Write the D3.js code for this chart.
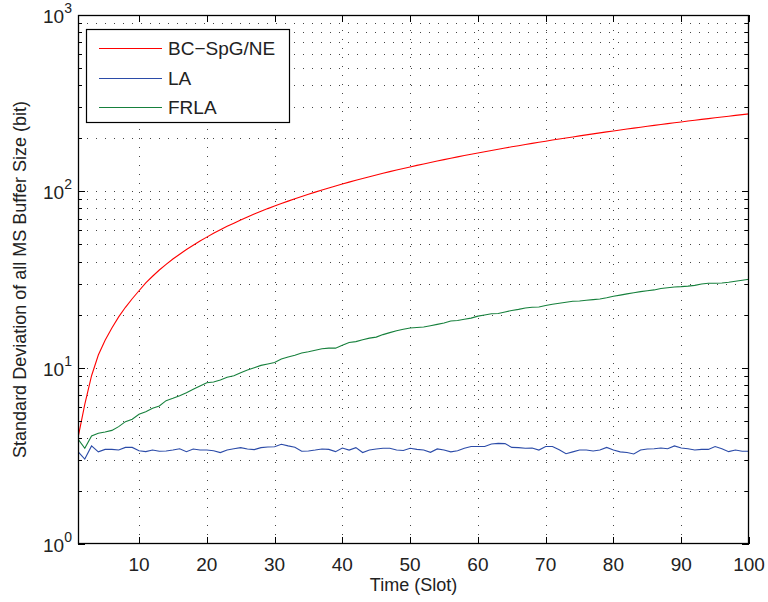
<!DOCTYPE html>
<html>
<head>
<meta charset="utf-8">
<script src="https://cdn.jsdelivr.net/npm/d3@7"></script>
<style>
  body { margin: 0; background: #fff; }
  svg { display: block; font-family: "Liberation Sans", Arial, sans-serif; }
</style>
</head>
<body>
<svg id="chart" width="768" height="602"></svg>
<script>
// values, one per slot (1..100)
const seriesNames = ["BC\u2212SpG/NE", "LA", "FRLA"];
const seriesColors = ["#ff0000", "#2b4ba8", "#16803c"];

const bcSpg = [
  4.0, 6.2, 9.0, 11.8, 14.3, 16.8, 19.4, 22.0, 24.6, 27.3,
  30.3, 33.0, 35.8, 38.5, 41.3, 44.0, 46.8, 49.5, 52.3, 55.0,
  57.8, 60.5, 63.3, 66.0, 68.8, 71.5, 74.3, 77.0, 79.8, 82.5,
  85.3, 88.0, 90.8, 93.5, 96.3, 99.0, 101.8, 104.5, 107.3, 110.0,
  112.8, 115.5, 118.3, 121.0, 123.8, 126.5, 129.3, 132.0, 134.8, 137.5,
  140.3, 143.0, 145.8, 148.5, 151.3, 154.0, 156.8, 159.5, 162.3, 165.0,
  167.8, 170.5, 173.3, 176.0, 178.8, 181.5, 184.3, 187.0, 189.8, 192.5,
  195.3, 198.0, 200.8, 203.5, 206.3, 209.0, 211.8, 214.5, 217.3, 220.0,
  222.8, 225.5, 228.3, 231.0, 233.8, 236.5, 239.3, 242.0, 244.8, 247.5,
  250.3, 253.0, 255.8, 258.5, 261.3, 264.0, 266.8, 269.5, 272.3, 275.0
];

const la = [
  3.34, 3.03, 3.60, 3.33, 3.44, 3.44, 3.41, 3.53, 3.53, 3.38,
  3.34, 3.41, 3.36, 3.37, 3.41, 3.47, 3.34, 3.46, 3.41, 3.41,
  3.38, 3.30, 3.41, 3.47, 3.52, 3.46, 3.43, 3.52, 3.55, 3.56,
  3.68, 3.60, 3.54, 3.36, 3.37, 3.41, 3.46, 3.44, 3.34, 3.50,
  3.41, 3.52, 3.30, 3.41, 3.46, 3.49, 3.49, 3.41, 3.39, 3.49,
  3.44, 3.41, 3.31, 3.46, 3.41, 3.33, 3.38, 3.49, 3.57, 3.57,
  3.57, 3.69, 3.72, 3.71, 3.53, 3.52, 3.49, 3.50, 3.41, 3.57,
  3.57, 3.42, 3.25, 3.33, 3.41, 3.41, 3.37, 3.41, 3.53, 3.41,
  3.33, 3.30, 3.24, 3.41, 3.46, 3.47, 3.50, 3.47, 3.60, 3.50,
  3.47, 3.41, 3.44, 3.44, 3.57, 3.47, 3.34, 3.41, 3.36, 3.36
];

const frla = [
  3.93, 3.49, 4.10, 4.25, 4.32, 4.41, 4.63, 4.94, 5.10, 5.44,
  5.63, 5.89, 6.06, 6.50, 6.70, 6.93, 7.21, 7.54, 7.87, 8.22,
  8.30, 8.51, 8.82, 9.00, 9.37, 9.70, 10.0, 10.3, 10.5, 10.7,
  11.2, 11.5, 11.75, 12.1, 12.3, 12.55, 12.8, 12.9, 12.9, 13.4,
  13.9, 14.05, 14.4, 14.7, 14.9, 15.4, 15.8, 16.2, 16.5, 16.8,
  16.9, 17.0, 17.3, 17.6, 17.9, 18.4, 18.5, 18.8, 19.1, 19.6,
  19.9, 20.2, 20.3, 20.7, 21.1, 21.4, 21.8, 22.0, 22.1, 22.5,
  22.9, 23.2, 23.5, 23.8, 23.9, 24.1, 24.3, 24.5, 24.9, 25.4,
  25.8, 26.2, 26.6, 27.0, 27.3, 27.6, 28.1, 28.4, 28.7, 28.8,
  29.0, 29.3, 29.8, 30.1, 30.1, 30.2, 30.5, 30.9, 31.3, 31.7
];

const xTicks = [10, 20, 30, 40, 50, 60, 70, 80, 90, 100];
const yDecades = [1, 10, 100, 1000];
const yExponents = ["0", "1", "2", "3"];

const margin = { left: 78, top: 15, right: 749, bottom: 544 };
const svg = d3.select("#chart");

const x = d3.scaleLinear().domain([1, 100]).range([margin.left, margin.right]);
const y = d3.scaleLog().domain([1, 1000]).range([margin.bottom, margin.top]);

// minor log positions 2..9 in each decade
const minorTicks = [];
yDecades.slice(0, -1).forEach(d => {
  for (let k = 2; k <= 9; k++) minorTicks.push(d * k);
});

const grid = svg.append("g")
  .attr("stroke", "#444")
  .attr("stroke-width", 1)
  .attr("stroke-dasharray", "1,8");

grid.selectAll(".hg")
  .data(yDecades.slice(1, -1).concat(minorTicks))
  .enter().append("line")
  .attr("x1", margin.left).attr("x2", margin.right)
  .attr("y1", d => Math.round(y(d)) + 0.5)
  .attr("y2", d => Math.round(y(d)) + 0.5);

grid.selectAll(".vg")
  .data(xTicks.slice(0, -1))
  .enter().append("line")
  .attr("y1", margin.bottom).attr("y2", margin.top)
  .attr("x1", d => Math.round(x(d)) + 0.5)
  .attr("x2", d => Math.round(x(d)) + 0.5);

// series
svg.append("clipPath").attr("id", "clip")
  .append("rect")
  .attr("x", margin.left).attr("y", margin.top)
  .attr("width", margin.right - margin.left)
  .attr("height", margin.bottom - margin.top);

const line = d3.line()
  .x((d, i) => x(i + 1))
  .y(d => y(d));

[bcSpg, la, frla].forEach((s, i) => {
  svg.append("path")
    .datum(s)
    .attr("clip-path", "url(#clip)")
    .attr("fill", "none")
    .attr("stroke", seriesColors[i])
    .attr("stroke-width", 1.1)
    .attr("d", line);
});

// ticks, inward on all four sides
const ticks = svg.append("g").attr("stroke", "#000").attr("stroke-width", 1);
xTicks.forEach(t => {
  const px = Math.round(x(t)) + 0.5;
  ticks.append("line").attr("x1", px).attr("x2", px)
    .attr("y1", margin.bottom).attr("y2", margin.bottom - 7);
  ticks.append("line").attr("x1", px).attr("x2", px)
    .attr("y1", margin.top).attr("y2", margin.top + 7);
});
yDecades.concat(minorTicks).forEach(t => {
  const py = Math.round(y(t)) + 0.5;
  const len = yDecades.includes(t) ? 7 : 4;
  ticks.append("line").attr("x1", margin.left).attr("x2", margin.left + len)
    .attr("y1", py).attr("y2", py);
  ticks.append("line").attr("x1", margin.right).attr("x2", margin.right - len)
    .attr("y1", py).attr("y2", py);
});

// axes box
svg.append("rect")
  .attr("x", margin.left + 0.5).attr("y", margin.top + 0.5)
  .attr("width", margin.right - margin.left - 1)
  .attr("height", margin.bottom - margin.top - 1)
  .attr("fill", "none").attr("stroke", "#000").attr("stroke-width", 1.3);

// tick labels
svg.append("g").selectAll("text")
  .data(xTicks)
  .enter().append("text")
  .attr("x", d => x(d))
  .attr("y", 571)
  .attr("text-anchor", "middle")
  .attr("font-size", 19)
  .attr("fill", "#222")
  .text(d => d);

yDecades.forEach((d, i) => {
  const t = svg.append("text")
    .attr("x", 43)
    .attr("y", y(d) + 8)
    .attr("font-size", 19)
    .attr("fill", "#222");
  t.append("tspan").text("10");
  t.append("tspan").attr("dy", -10).attr("font-size", 14).text(yExponents[i]);
});

// axis labels
svg.append("text")
  .attr("x", (margin.left + margin.right) / 2)
  .attr("y", 591)
  .attr("text-anchor", "middle")
  .attr("font-size", 18)
  .attr("fill", "#222")
  .text("Time (Slot)");

svg.append("text")
  .attr("transform", `translate(26, ${(margin.top + margin.bottom) / 2}) rotate(-90)`)
  .attr("text-anchor", "middle")
  .attr("font-size", 18)
  .attr("fill", "#222")
  .text("Standard Deviation of all MS Buffer Size (bit)");

// legend
const legend = svg.append("g");
legend.append("rect")
  .attr("x", 86.5).attr("y", 29.5)
  .attr("width", 203).attr("height", 93)
  .attr("fill", "#fff").attr("stroke", "#000").attr("stroke-width", 1.2);

const rows = [48, 78, 107];
seriesNames.forEach((name, i) => {
  legend.append("line")
    .attr("x1", 99).attr("x2", 162)
    .attr("y1", rows[i] + 0.5).attr("y2", rows[i] + 0.5)
    .attr("stroke", seriesColors[i]).attr("stroke-width", 1.1);
  legend.append("text")
    .attr("x", 168).attr("y", rows[i] + 7)
    .attr("font-size", 19)
    .attr("fill", "#222")
    .text(name);
});
</script>
</body>
</html>
